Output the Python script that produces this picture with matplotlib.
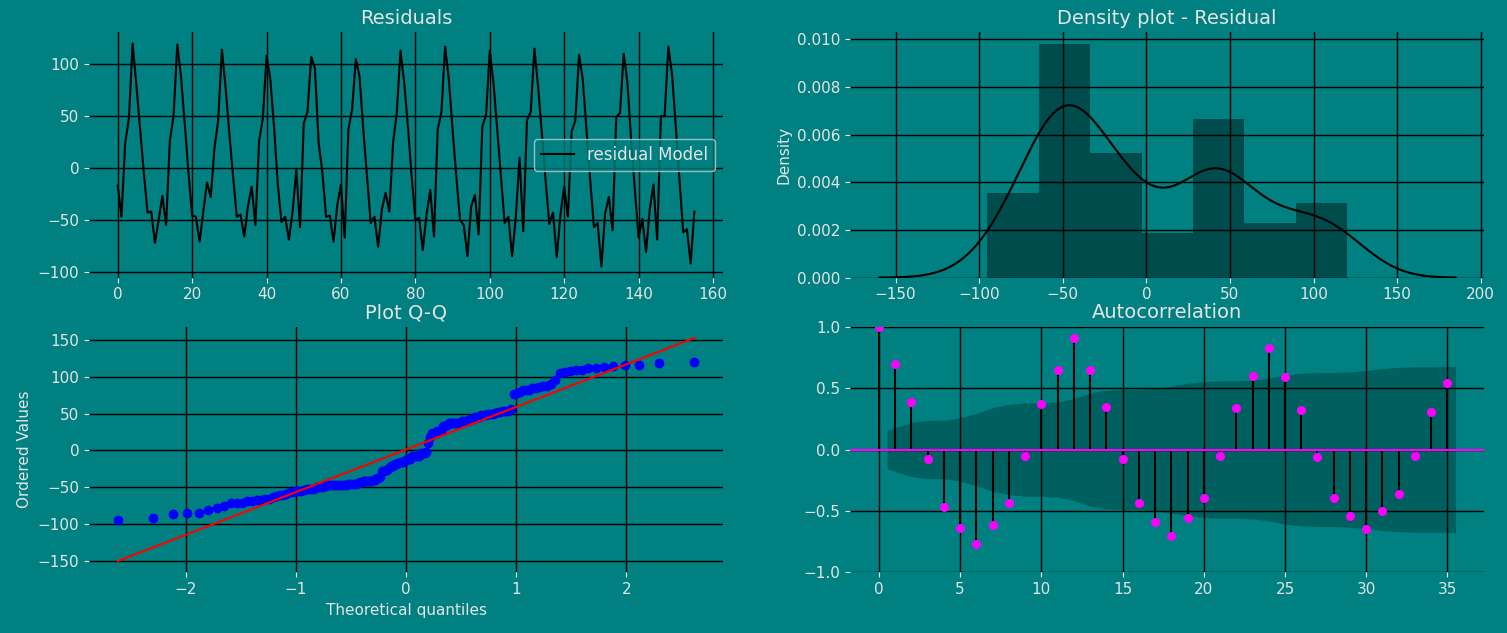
import matplotlib
matplotlib.use("Agg")
import matplotlib.pyplot as plt
import numpy as np
import seaborn as sns
from statistics import NormalDist

# residual series (156 points)
residuals = np.array([
    -17, -47, 24, 48, 120, 80, 38, -4, -43, -42, -72, -50,
    -27, -55, 26, 50, 119, 88, 43, -4, -46, -47, -71, -42,
    -14, -28, 19, 46, 114, 77, 33, -8, -47, -45, -66, -37,
    -18, -55, 26, 48, 108, 86, 40, -15, -52, -47, -69, -42,
    -2, -57, 43, 54, 107, 96, 24, -4, -47, -46, -71, -36,
    -16, -67, 37, 57, 105, 88, 37, -8, -53, -47, -76, -40,
    -24, -42, 24, 53, 113, 82, 40, -8, -50, -48, -79, -45,
    -21, -66, 37, 54, 117, 85, 37, -8, -50, -55, -85, -37,
    -26, -64, 40, 51, 113, 82, 37, -8, -53, -47, -85, -47,
    10, -61, 46, 54, 115, 78, 33, -12, -54, -43, -86, -45,
    -18, -47, 35, 46, 109, 85, 37, -12, -57, -53, -95, -44,
    -28, -60, 49, 53, 110, 82, 27, -21, -67, -49, -81, -40,
    -16, -69, 50, 50, 117, 90, 40, -12, -62, -59, -92, -42,
], dtype=float)

# autocorrelation values, lags 0..35
acf_values = np.array([
    1.0, 0.70, 0.385, -0.08, -0.465, -0.64, -0.77, -0.615, -0.435, -0.055,
    0.37, 0.65, 0.91, 0.65, 0.35, -0.075, -0.435, -0.59, -0.705, -0.555,
    -0.395, -0.05, 0.335, 0.60, 0.825, 0.59, 0.32, -0.065, -0.395, -0.54,
    -0.645, -0.505, -0.36, -0.05, 0.305, 0.54,
])

BG = "#008080"
FG = "#e4e4e4"

plt.rcParams.update({
    "figure.facecolor": BG,
    "axes.facecolor": BG,
    "axes.edgecolor": BG,
    "axes.labelcolor": FG,
    "axes.titlecolor": FG,
    "text.color": FG,
    "xtick.color": FG,
    "ytick.color": FG,
    "xtick.labelsize": 11,
    "ytick.labelsize": 11,
    "axes.labelsize": 11,
    "axes.titlesize": 14,
    "font.size": 12,
    "legend.edgecolor": "#cccccc",
})

fig, axes = plt.subplots(2, 2, figsize=(15.07, 6.33), dpi=100)
fig.subplots_adjust(left=0.059, right=0.985, top=0.949, bottom=0.096,
                    wspace=0.2, hspace=0.2)

for ax in axes.flat:
    for s in ax.spines.values():
        s.set_visible(False)
    ax.grid(True, color="black", linewidth=1.0)

# Residuals
ax = axes[0, 0]
ax.plot(np.arange(len(residuals)), residuals, color="black", lw=1.5,
        label="residual Model")
ax.set_title("Residuals")
ax.set_xticks(np.arange(0, 161, 20))
leg = ax.legend(loc="center right", facecolor=BG)
for t in leg.get_texts():
    t.set_color(FG)

# Density plot
ax = axes[0, 1]
ax.hist(residuals, bins=7, density=True, color="black", alpha=0.4)
sns.kdeplot(x=residuals, color="black", lw=1.5, ax=ax)
ax.set_title("Density plot - Residual")
ax.set_ylabel("Density")
ax.set_xlabel("")
ax.grid(True, color="black", linewidth=1.0)

# Q-Q plot (Filliben plotting positions, like scipy probplot)
ax = axes[1, 0]
n = len(residuals)
pos = (np.arange(1, n + 1) - 0.3175) / (n + 0.365)
pos[-1] = 0.5 ** (1.0 / n)
pos[0] = 1 - pos[-1]
nd = NormalDist()
osm = np.array([nd.inv_cdf(p) for p in pos])
osr = np.sort(residuals)
slope, intercept = np.polyfit(osm, osr, 1)
ax.plot(osm, osr, "o", color="blue", markersize=6)
ax.plot(osm, slope * osm + intercept, color="red", lw=1.5)
ax.set_title("Plot Q-Q")
ax.set_xlabel("Theoretical quantiles")
ax.set_ylabel("Ordered Values")

# Autocorrelation
ax = axes[1, 1]
lags = np.arange(len(acf_values))
varacf = np.ones(len(acf_values)) / n
varacf[0] = 0
varacf[2:] *= 1 + 2 * np.cumsum(acf_values[1:-1] ** 2)
band = 1.96 * np.sqrt(varacf)
band_x = lags[1:].astype(float)
band_x[0] -= 0.5
band_x[-1] += 0.5
ax.fill_between(band_x, -band[1:], band[1:], color="black", alpha=0.25, lw=0)
ax.vlines(lags, 0, acf_values, color="black", lw=1.5)
ax.axhline(0, color="#ff00ff", lw=1.5)
ax.plot(lags, acf_values, "o", color="#ff00ff", markersize=5.5)
ax.set_ylim(-1, 1)
ax.set_yticks([-1.0, -0.5, 0.0, 0.5, 1.0])
ax.set_title("Autocorrelation")

fig.savefig("out.png", dpi=100, facecolor=BG)
